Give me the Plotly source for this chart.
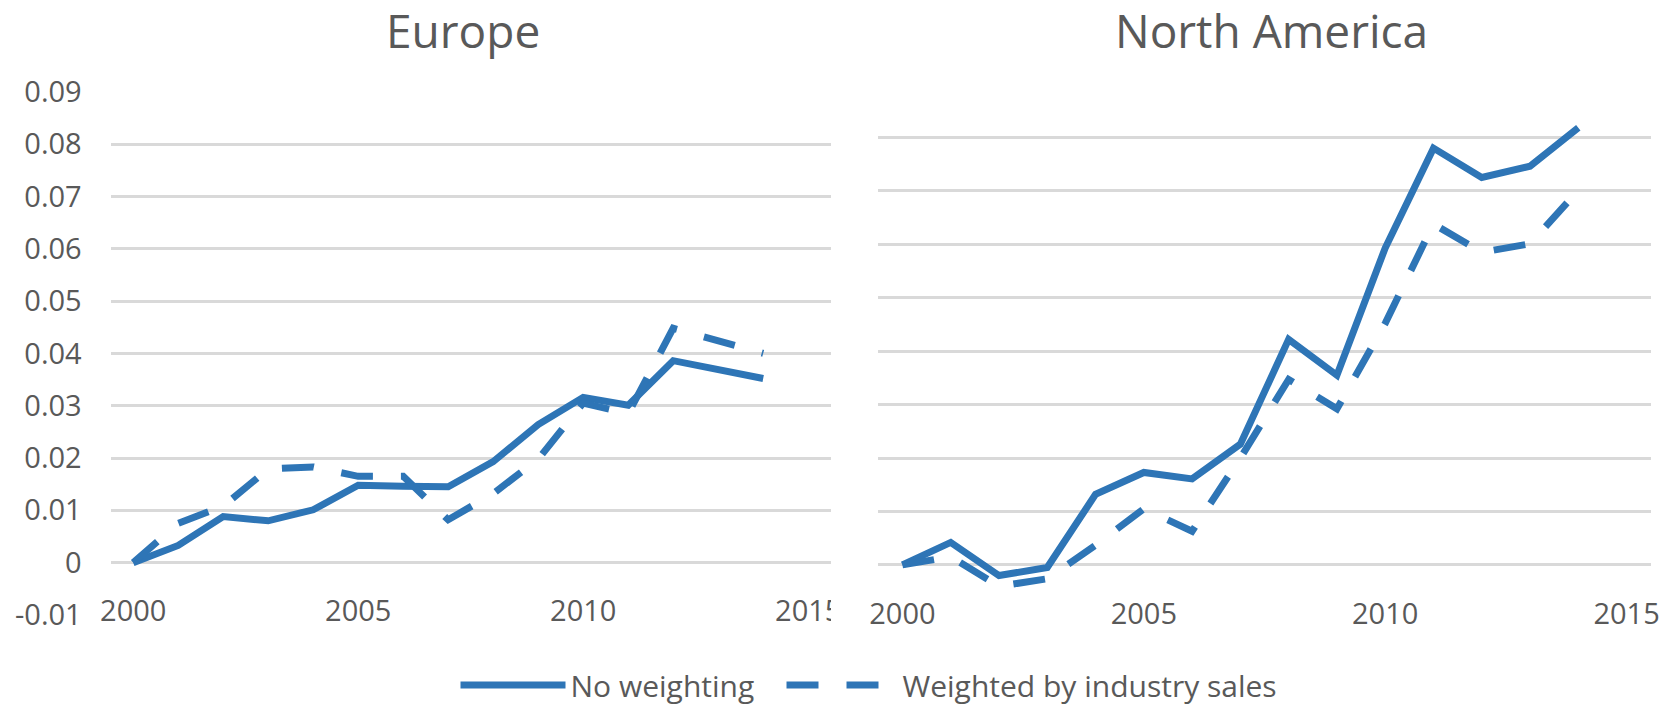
import plotly.graph_objects as go

# ---------------- data ----------------
years = list(range(2000, 2015))

europe_no_weighting = [0.0, 0.0033, 0.0088, 0.0080, 0.0101, 0.0148, 0.0146, 0.0145,
                       0.0193, 0.0264, 0.0316, 0.0301, 0.0386, 0.0370, 0.0352]
europe_weighted = [0.0, 0.0075, 0.0108, 0.0179, 0.0183, 0.0165, 0.0165, 0.0082,
                   0.0132, 0.0198, 0.0305, 0.0285, 0.0448, 0.0425, 0.0400]

na_no_weighting = [0.0, 0.0042, -0.0020, -0.0005, 0.0132, 0.0173, 0.0161, 0.0226,
                   0.0422, 0.0355, 0.0593, 0.0780, 0.0725, 0.0746, 0.0818]
na_weighted = [0.0, 0.0015, -0.0040, -0.0026, 0.0037, 0.0105, 0.0063, 0.0200,
               0.0347, 0.0292, 0.0452, 0.0638, 0.0585, 0.0601, 0.0701]

series_names = ["No weighting", "Weighted by industry sales"]
panel_titles = ["Europe", "North America"]

y_tickvals = [-0.01, 0, 0.01, 0.02, 0.03, 0.04, 0.05, 0.06, 0.07, 0.08, 0.09]
y_ticktext = ["-0.01", "0", "0.01", "0.02", "0.03", "0.04", "0.05", "0.06", "0.07", "0.08", "0.09"]
x_tickvals = [2000, 2005, 2010, 2015]
x_ticktext = ["2000", "2005", "2010", "2015"]

# ---------------- style ----------------
W, H = 1665, 707
BLUE = "#2E75B6"
GREY_TXT = "#595959"
GRID = "#D9D9D9"
FONT = "Open Sans"
LW = 7
DASH = "32px,28px"
TICK_SIZE = 29


def px_x(v):
    return v / W


def px_y(v):
    return 1 - v / H


fig = go.Figure()

fig.add_trace(go.Scatter(x=years, y=europe_no_weighting, mode="lines", name=series_names[0],
                         line=dict(color=BLUE, width=LW), xaxis="x", yaxis="y",
                         legend="legend"))
fig.add_trace(go.Scatter(x=years, y=europe_weighted, mode="lines", name=series_names[1],
                         line=dict(color=BLUE, width=LW, dash=DASH), xaxis="x", yaxis="y",
                         legend="legend2"))
fig.add_trace(go.Scatter(x=years, y=na_no_weighting, mode="lines", name=series_names[0],
                         line=dict(color=BLUE, width=LW), xaxis="x2", yaxis="y2",
                         showlegend=False))
fig.add_trace(go.Scatter(x=years, y=na_weighted, mode="lines", name=series_names[1],
                         line=dict(color=BLUE, width=LW, dash=DASH), xaxis="x2", yaxis="y2",
                         showlegend=False))

xcommon = dict(range=[1999.5, 2015.5], tickmode="array", tickvals=x_tickvals, ticktext=x_ticktext,
               showgrid=False, zeroline=False, showline=False, ticks="",
               tickfont=dict(family=FONT, size=TICK_SIZE, color=GREY_TXT),
               anchor="free", automargin=False)
ycommon = dict(range=[-0.01, 0.09], tickmode="array", tickvals=y_tickvals, ticktext=y_ticktext,
               showgrid=True, gridcolor=GRID, gridwidth=2.5, zeroline=False, showline=False,
               ticks="", tickfont=dict(family=FONT, size=TICK_SIZE, color=GREY_TXT),
               automargin=False)

legend_common = dict(orientation="h", xanchor="left", yanchor="middle", y=px_y(685),
                     font=dict(family=FONT, size=30, color=GREY_TXT),
                     bgcolor="rgba(0,0,0,0)", borderwidth=0)

fig.update_layout(
    width=W, height=H,
    margin=dict(l=0, r=0, t=0, b=0, autoexpand=False),
    paper_bgcolor="white", plot_bgcolor="white",
    showlegend=True,
    xaxis=dict(xcommon, domain=[px_x(110.7), px_x(830.7)], position=px_y(591)),
    yaxis=dict(ycommon, domain=[px_y(615), px_y(91.7)], anchor="x", ticklabelstandoff=28),
    xaxis2=dict(xcommon, domain=[px_x(878.3), px_x(1650.7)], position=px_y(594.3)),
    yaxis2=dict(ycommon, domain=[px_y(618.3), px_y(84)], anchor="x2", showticklabels=False),
    legend=dict(legend_common, x=px_x(455.5), itemwidth=105),
    legend2=dict(legend_common, x=px_x(781.5), itemwidth=111),
    annotations=[
        dict(text=panel_titles[0], x=px_x(462.8), y=px_y(30.5), xref="paper", yref="paper",
             xanchor="center", yanchor="middle", showarrow=False, borderpad=0,
             font=dict(family=FONT, size=46, color=GREY_TXT)),
        dict(text=panel_titles[1], x=px_x(1271.6), y=px_y(30.5), xref="paper", yref="paper",
             xanchor="center", yanchor="middle", showarrow=False, borderpad=0,
             font=dict(family=FONT, size=46, color=GREY_TXT)),
    ],
    shapes=[
        # the left chart's last year label is cut off at its chart border
        dict(type="rect", xref="paper", yref="paper", layer="above",
             x0=px_x(831), x1=px_x(868), y0=px_y(630), y1=px_y(585),
             fillcolor="white", line=dict(width=0)),
    ],
)

fig.write_html("out.html")
